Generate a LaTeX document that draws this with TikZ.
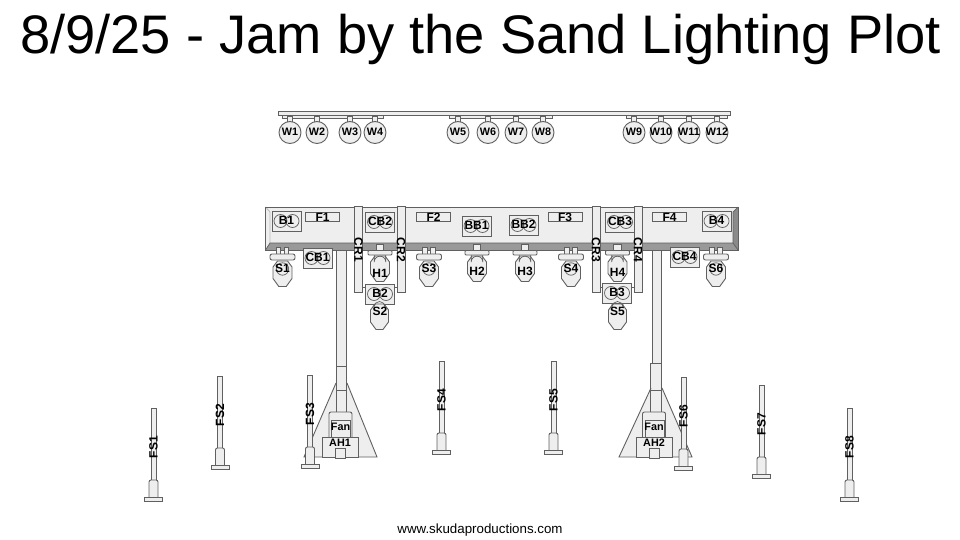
\documentclass[tikz,border=0pt]{standalone}
\usepackage{fontspec}
\setmainfont{Liberation Sans}
\usepackage{xcolor}
\usepackage{tikz}
\usetikzlibrary{calc}
\definecolor{fixfill}{HTML}{EEEEEE}
\definecolor{fixline}{HTML}{606060}
\definecolor{bevel}{HTML}{999999}
\definecolor{bevelside}{HTML}{BBBBBB}
\tikzset{
  part/.style={draw=fixline, fill=fixfill, line width=0.9pt},
  edge/.style={draw=fixline, line width=0.9pt},
  thinedge/.style={draw=fixline, line width=0.7pt},
  tag/.style={font=\fontsize{12}{14}\selectfont\bfseries, inner sep=0pt, text=black},
  smalltag/.style={font=\fontsize{10.8}{12}\selectfont\bfseries, inner sep=0pt, text=black}
}
\begin{document}
\begin{tikzpicture}[x=1pt, y=-1pt]
  \useasboundingbox (0,0) rectangle (960,540);
  \node[inner sep=0pt, font=\fontsize{54.3}{60}\selectfont] (title) at (480.5,39.5) {8/9/25 - Jam by the Sand Lighting Plot};
  \node[inner sep=0pt, font=\fontsize{13.33}{15}\selectfont] (footer) at (480,530.5) {www.skudaproductions.com};

  % Wash truss
  \draw[part] (278,111) rectangle (730,115);
  \foreach \a/\b in {282/383, 449/552, 626/727} {
    \draw[part] (\a,115) rectangle (\b,118);
  }
  \foreach \x/\label in {290/W1, 317/W2, 350/W3, 375/W4, 458/W5, 488/W6, 516/W7, 543/W8, 634/W9, 661/W10, 689/W11, 717/W12} {
    \draw[part] (\x-2.2,116) rectangle (\x+2.2,126);
    \draw[part] (\x,132.5) circle (11);
    \node[smalltag] (\label) at (\x,132) {\label};
  }

  % Stands
  \draw[part] (336.5,248) rectangle (346,392);
  \draw[part] (652,248) rectangle (661,392);
  \draw[part] (650.5,363) rectangle (661.5,392);
  \draw[part] (336,383) -- (304,457) -- (377,457) -- (347,383);
  \draw[part] (651,388) -- (619,457) -- (692,457) -- (662,388);
  \fill[fixfill] (337,380) rectangle (346,392);
  \fill[fixfill] (651.5,380) rectangle (661,391);
  \draw[edge] (336.5,366) -- (336.5,412) (346,366) -- (346,412) (336.5,366) -- (346,366) (336.5,390) -- (346,390);
  \draw[edge] (650.5,363) -- (650.5,412) (661.5,363) -- (661.5,412) (650.5,390) -- (661.5,390);

  % Air handlers
  \foreach \x/\y/\label in {340.5/322/AH1, 654/636/AH2} {
    \draw[part, rounded corners=2pt] (\x-11.5,437) -- (\x-11.5,412) -- (\x+11.5,412) -- (\x+11.5,437);
    \draw[part] (\x-9,420) rectangle (\x+10,437);
    \draw[part] (\y,437) rectangle (\y+36.5,457);
    \draw[part] (\x-5,448) rectangle (\x+5,458);
    \node[smalltag] (\label) at (\y+18,442.5) {\label};
    \node[smalltag] (Fan\label) at (\x,427) {Fan};
  }

  % Bar
  \fill[fixfill] (265.5,207) rectangle (738,250);
  \fill[bevel] (265.5,250) -- (270,243) -- (733,243) -- (738,250) -- cycle;
  \fill[bevel!90!black] (738,207) -- (733,212) -- (733,243) -- (738,250) -- cycle;
  \draw[bevelside, line width=0.8pt] (265.5,207) -- (270,212) -- (270,243);
  \draw[thinedge] (265.5,250) -- (270,243) -- (733,243) -- (733,212) -- (738,207) (733,243) -- (738,250);
  \draw[edge] (265.5,207) rectangle (738,250);

  % Floods
  \foreach \x/\label in {305.5/F1, 416.5/F2, 548/F3, 652.5/F4} {
    \draw[part] (\x,212) rectangle (\x+34,221);
    \node[tag] (\label) at (\x+17,217) {\label};
  }

  % Booms
  \foreach \x/\label in {354/CR1, 397/CR2, 592/CR3, 634/CR4} {
    \draw[part] (\x,206) rectangle (\x+8,292);
  }
  \draw[edge] (362,287) -- (366,287) (393,287) -- (397,287) (600,287) -- (603,287) (632,287) -- (634,287);

  % Blinders
  \foreach \x/\y/\label in {272/211/B1, 365.5/212/CB2, 303/248/CB1, 365.5/284/B2, 462/216/BB1, 509/215/BB2, 605.5/212/CB3, 702/211/B4, 670/247/CB4, 602.5/283/B3} {
    \draw[part] (\x,\y) rectangle (\x+29,\y+20);
    \draw[thinedge] (\x+8.5,\y+10) circle (6.5) (\x+20.5,\y+10) circle (6.5);
    \node[tag] (\label) at (\x+14.5,\y+9.5) {\label};
  }

  % Hanging lamps
  \foreach \x in {380, 477, 525, 617.5} {
    \draw[part, rounded corners=1pt] (\x-12,250.5) rectangle (\x+12,255);
    \draw[part] (\x-3.7,244) rectangle (\x+3.7,250.5);
  }
  \foreach \x/\y/\label in {380/255/H1, 477/255/H2, 525/255/H3, 617.5/255/H4, 282.5/260/S1, 429/260/S3, 571/260/S4, 716/260/S6} {
    \draw[part] (\x-5,\y+1) -- (\x-9.5,\y+7) -- (\x-9.5,\y+18.5) -- (\x-3.7,\y+26.5) -- (\x+3.7,\y+26.5) -- (\x+9.5,\y+18.5) -- (\x+9.5,\y+7) -- (\x+5,\y+1) -- cycle;
  }
  \foreach \x in {380, 477, 525, 617.5} {
    \draw[thinedge] (\x-5.8,255) -- (\x-5.8,262) arc (180:360:5.8) -- (\x+5.8,255);
  }
  \foreach \x in {282.5, 429, 571, 716} {
    \draw[part] (\x-6.3,247) rectangle (\x-1.8,254);
    \draw[part] (\x+1.5,247) rectangle (\x+6,254);
    \draw[part, rounded corners=2pt] (\x-12.5,254) rectangle (\x+12.5,260);
    \draw[thinedge] (\x,269) circle (6.2);
  }
  \foreach \x in {379.5, 617.5} {
    \draw[part] (\x-4.5,304) -- (\x-9,310) -- (\x-9,322) -- (\x-3.5,329.5) -- (\x+3.5,329.5) -- (\x+9,322) -- (\x+9,310) -- (\x+4.5,304) -- cycle;
    \draw[thinedge] (\x-5.5,304) -- (\x-5.5,307) arc (180:360:5.5) -- (\x+5.5,304);
  }
  \foreach \x/\y/\label in {380/273/H1, 477/271/H2, 525/271.5/H3, 617.5/272/H4, 282.5/268.5/S1, 429/268.5/S3, 571/268.5/S4, 716/268.5/S6, 380/311/S2, 617.5/311/S5} {
    \node[tag] (\label) at (\x,\y) {\label};
  }
  \foreach \x/\label in {358.5/CR1, 401/CR2, 596/CR3, 638/CR4} {
    \node[tag, rotate=-90] (\label) at (\x,250) {\label};
  }

  % Floor stands
  \foreach \x/\y/\label in {153.5/408/FS1, 220/376/FS2, 310/375/FS3, 441.5/361/FS4, 553.5/361/FS5, 683.5/377/FS6, 761.5/385/FS7, 849.5/408/FS8} {
    \draw[part] (\x-2.5,\y) rectangle (\x+2.5,\y+73);
    \draw[part, rounded corners=2pt] (\x-4.5,\y+89) -- (\x-4.5,\y+72) -- (\x+4.5,\y+72) -- (\x+4.5,\y+89);
    \draw[part] (\x-9,\y+89) rectangle (\x+9,\y+93);
    \node[tag, rotate=90] (\label) at (\x,\y+39) {\label};
  }
\end{tikzpicture}
\end{document}
